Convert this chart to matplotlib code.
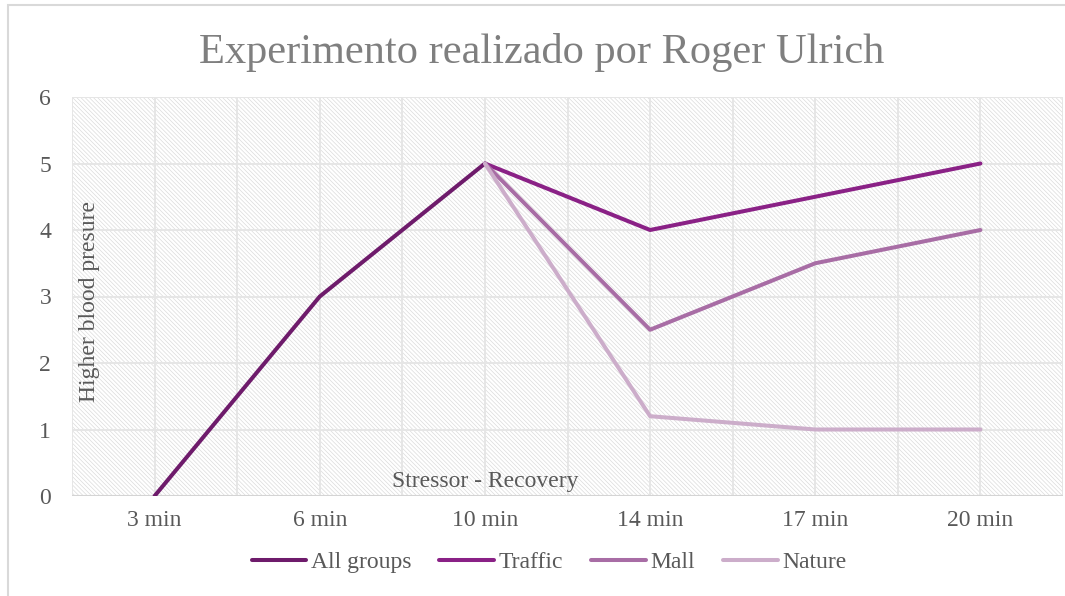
import matplotlib
matplotlib.use("Agg")
import matplotlib.pyplot as plt
from matplotlib.patches import Rectangle
import numpy as np

# data
times = ["3 min", "6 min", "10 min", "14 min", "17 min", "20 min"]
all_groups = [0, 3, 5, np.nan, np.nan, np.nan]
traffic = [np.nan, np.nan, 5, 4, 4.5, 5]
mall = [np.nan, np.nan, 5, 2.5, 3.5, 4]
nature = [np.nan, np.nan, 5, 1.2, 1, 1]

series = [("All groups", all_groups, "#6E1B6B"),
          ("Traffic", traffic, "#8A2186"),
          ("Mall", mall, "#A86DA5"),
          ("Nature", nature, "#CCADCA")]

plt.rcParams["font.family"] = ["Liberation Serif", "DejaVu Serif"]
plt.rcParams["hatch.linewidth"] = 0.5

W, H = 1065, 596
fig = plt.figure(figsize=(W / 100, H / 100), dpi=100)
ax = fig.add_axes([72 / W, 1 - 496 / H, (1063 - 72) / W, (496 - 97) / H])

# hatched plot background (dense "light downward diagonal")
ax.patch.set_visible(False)
ax.add_patch(Rectangle((0, 0), 1, 1, transform=ax.transAxes, facecolor="white",
                       edgecolor="#dcdcdc", lw=0, hatch="\\" * 8, zorder=0))

x = np.arange(len(times))
for label, vals, col in series:
    ax.plot(x, vals, color=col, lw=2.9, label=label, solid_capstyle="round",
            solid_joinstyle="round", zorder=3)

ax.set_xlim(-0.5, len(times) - 0.5)
ax.set_ylim(0, 6)

# grid: horizontal at integers, vertical every half category
for yv in range(0, 7):
    ax.axhline(yv, color="#e6e6e6", lw=1.4, zorder=1)
for xv in np.arange(-0.5, len(times), 0.5):
    ax.axvline(xv, color="#e6e6e6", lw=1.4, zorder=1)
ax.axhline(0, color="#d4d4d4", lw=1.5, zorder=2)

for s in ax.spines.values():
    s.set_visible(False)

ax.set_xticks(x)
ax.set_xticklabels(times)
ax.set_yticks(range(0, 7))
ax.tick_params(length=0, labelsize=17, colors="#595959")
ax.tick_params(axis="y", pad=15)
ax.tick_params(axis="x", pad=10)

# in-plot axis titles
ax.text((90 - 72) / (1063 - 72), (496 - 302) / (496 - 97), "Higher blood presure",
        rotation=90, ha="center", va="center", fontsize=17, color="#595959",
        transform=ax.transAxes, zorder=4)
ax.text(2, 0.06, "Stressor - Recovery", ha="center", va="bottom",
        fontsize=17, color="#595959", zorder=4)

fig.text(542 / W, 1 - 53 / H, "Experimento realizado por Roger Ulrich",
         ha="center", va="center", fontsize=30.5, color="#7f7f7f")

leg = fig.legend(loc="center", bbox_to_anchor=(549 / W, 1 - 562 / H), ncol=4,
                 frameon=False, fontsize=17, handlelength=2.3, handletextpad=0.2,
                 columnspacing=1.2)
for t in leg.get_texts():
    t.set_color("#595959")

# chart frame
fig.patches.append(Rectangle((8 / W, -0.1), 1.2, (H - 5) / H + 0.1,
                             transform=fig.transFigure, fill=False,
                             edgecolor="#d9d9d9", lw=1.5))

fig.savefig("out.png", dpi=100, facecolor="white")
